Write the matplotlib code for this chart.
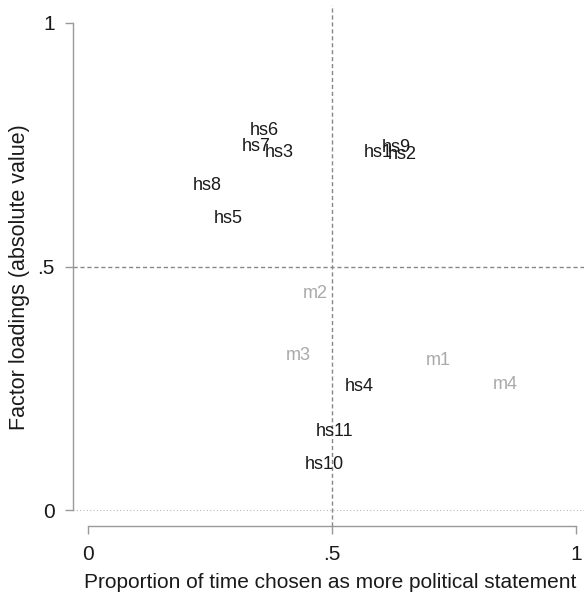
import matplotlib
matplotlib.use('Agg')
from matplotlib import pyplot as plt

plt.rcParams['font.family'] = ['Liberation Sans', 'DejaVu Sans']

# item labels, proportion chosen (x) and factor loading (y)
hs_labels = ['hs6', 'hs7', 'hs3', 'hs1', 'hs9', 'hs2', 'hs8', 'hs5',
             'hs4', 'hs11', 'hs10']
hs_x = [0.361, 0.344, 0.391, 0.594, 0.631, 0.643, 0.244, 0.287,
        0.555, 0.506, 0.484]
hs_y = [0.778, 0.747, 0.733, 0.733, 0.745, 0.729, 0.667, 0.599,
        0.255, 0.161, 0.095]

m_labels = ['m2', 'm3', 'm1', 'm4']
m_x = [0.465, 0.430, 0.717, 0.855]
m_y = [0.444, 0.317, 0.308, 0.259]

ticks = [0, 0.5, 1]
tick_labels = ['0', '.5', '1']

fig = plt.figure(figsize=(5.84, 5.98), dpi=100)
ax = fig.add_axes([0.125, 0.1204, 0.875, 0.8712])
ax.set_xlim(-0.0307, 1.0164)
ax.set_ylim(-0.0318, 1.036)

grey = '#999999'
ax.axhline(0, color='#bbbbbb', lw=0.8, ls=(0, (1, 2)))
ax.axhline(0.5, color='#888888', lw=1, ls=(0, (3, 2)))
ax.axvline(0.5, color='#888888', lw=1, ls=(0, (3, 2)))

for lab, x, y in zip(hs_labels, hs_x, hs_y):
    ax.text(x, y, lab, ha='center', va='center', fontsize=13,
            color='#1a1a1a')
for lab, x, y in zip(m_labels, m_x, m_y):
    ax.text(x, y, lab, ha='center', va='center', fontsize=13,
            color='#aaaaaa')

for s in ['top', 'right']:
    ax.spines[s].set_visible(False)
for s in ['left', 'bottom']:
    ax.spines[s].set_color(grey)
    ax.spines[s].set_linewidth(1)
ax.spines['left'].set_bounds(0, 1)
ax.spines['bottom'].set_bounds(0, 1)

ax.set_xticks(ticks)
ax.set_xticklabels(tick_labels)
ax.set_yticks(ticks)
ax.set_yticklabels(tick_labels)
ax.tick_params(length=6, width=1, color=grey, labelsize=15,
               labelcolor='#1a1a1a')
ax.tick_params(axis='x', pad=8)
ax.tick_params(axis='y', pad=7)

ax.set_xlabel('Proportion of time chosen as more political statement',
              fontsize=15, color='#1a1a1a')
ax.set_ylabel('Factor loadings (absolute value)', fontsize=15.5,
              color='#1a1a1a')
ax.xaxis.set_label_coords(0.503, -0.109)
ax.xaxis.label.set_va('center')
ax.yaxis.set_label_coords(-0.104, 0.478)
ax.yaxis.label.set_va('center')

fig.savefig('out.png', dpi=100)
